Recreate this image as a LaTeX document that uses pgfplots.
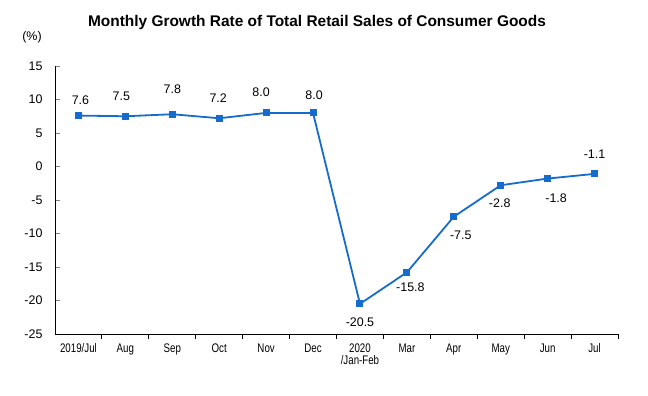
\documentclass[border=0pt]{standalone}
\usepackage{fontspec}
\setmainfont{Liberation Sans}
\newfontfamily\narrowfont[FakeStretch=0.78]{Liberation Sans}
\usepackage{pgfplots}
\usepackage{pgfplotstable}
\pgfplotsset{compat=1.18}
\definecolor{lineblue}{RGB}{22,108,204}
\pgfplotstableread{
x y dx dy lab
0 7.6 2 15 7.6
1 7.5 -4 20 7.5
2 7.8 0 25 7.8
3 7.2 -1 20 7.2
4 8.0 -5 21 8.0
5 8.0 1 18 8.0
6 -20.5 0 -18 -20.5
7 -15.8 3.5 -15 -15.8
8 -7.5 7 -19 -7.5
9 -2.8 -1 -18 -2.8
10 -1.8 8.5 -20 -1.8
11 -1.1 0 20 -1.1
}\salesdata
\begin{document}
\begin{tikzpicture}
\path[use as bounding box] (0,0) rectangle (648bp,396bp);
\node[font=\bfseries\fontsize{15.5}{17}\selectfont] at (317bp,373bp) {Monthly Growth Rate of Total Retail Sales of Consumer Goods};
\node[font=\fontsize{12.5}{14}\selectfont] at (32bp,359bp) {(\%)};
\begin{axis}[
  at={(55bp,62bp)}, anchor=south west,
  scale only axis, width=563bp, height=268bp,
  xmin=-0.5, xmax=11.5, ymin=-25, ymax=15,
  axis x line*=bottom, axis y line*=left,
  axis line style={line width=0.9bp, -},
  xtick={0,...,11},
  xticklabels={2019/Jul,Aug,Sep,Oct,Nov,Dec,{2020\\/Jan-Feb},Mar,Apr,May,Jun,Jul},
  xtick style={draw=none},
  xticklabel style={font=\narrowfont\fontsize{12.5}{12}\selectfont, align=center, anchor=north, yshift=-6bp},
  extra x ticks={0.5,1.5,...,11.5},
  extra x tick labels={},
  extra x tick style={xtick style={draw=black, line width=0.9bp}, major tick length=5bp, tick align=outside},
  ytick={-25,-20,...,15},
  ytick style={line width=0.9bp},
  tick align=inside, major tick length=5bp,
  yticklabel style={font=\fontsize{12.5}{14}\selectfont, anchor=east, xshift=-9bp},
  /pgf/number format/assume math mode=true,
  clip=false,
]
\addplot[color=lineblue, line width=1.8bp, mark=square*, mark size=2.6bp,
  mark options={solid, fill=lineblue},
  nodes near coords, point meta=explicit symbolic,
  visualization depends on={\thisrow{dx} \as \dx},
  visualization depends on={\thisrow{dy} \as \dy},
  every node near coord/.append style={anchor=center, text=black, font=\fontsize{12.5}{14}\selectfont, xshift=\dx bp, yshift=\dy bp}]
  table[x=x, y=y, meta=lab] {\salesdata};
\end{axis}
\end{tikzpicture}
\end{document}
